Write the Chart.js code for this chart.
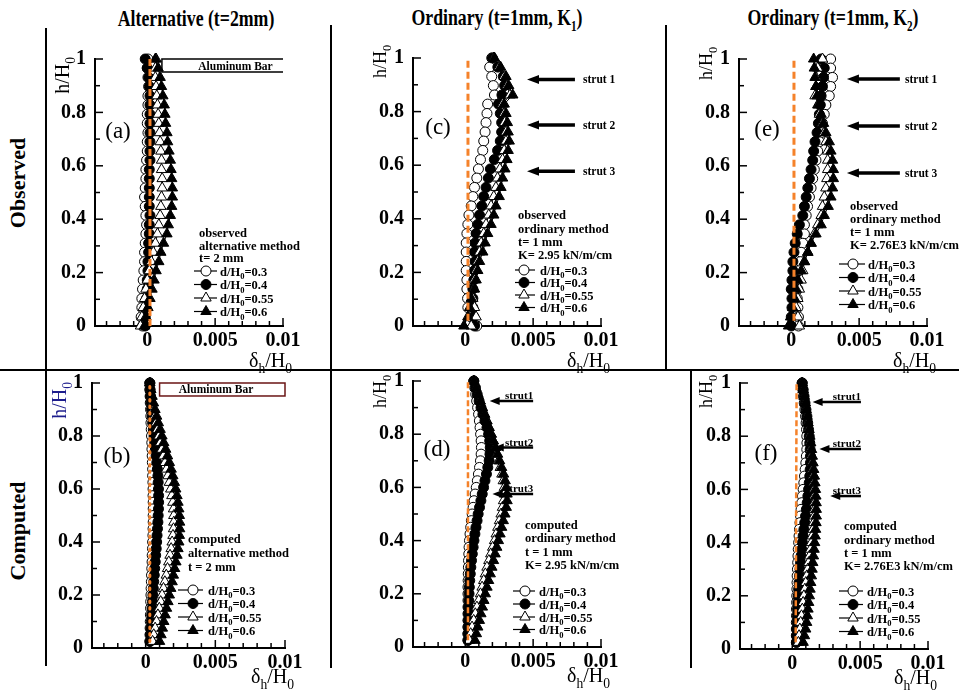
<!DOCTYPE html>
<html><head><meta charset="utf-8">
<script src="https://cdn.jsdelivr.net/npm/chart.js@4.4.0/dist/chart.umd.min.js"></script>
<style>
body{margin:0;background:#fff;}
#wrap{position:relative;width:959px;height:693px;overflow:hidden;background:#fff;font-family:"Liberation Serif","Times New Roman",serif;}
#wrap canvas{position:absolute;}
.t{position:absolute;font-weight:bold;white-space:nowrap;color:#000;line-height:1;}
.ttl{font-size:24px;transform:translateX(-50%) scaleX(0.74);}
.row{font-size:22px;transform:translate(-50%,-50%) rotate(-90deg);}
.ln{position:absolute;background:#000;}
</style></head><body>
<div id="wrap">
  <div class="t ttl" style="left:196px;top:6px">Alternative (t=2mm)</div>
  <div class="t ttl" style="left:497px;top:5px">Ordinary (t=1mm, K<sub style="font-size:15px">1</sub>)</div>
  <div class="t ttl" style="left:833px;top:5px">Ordinary (t=1mm, K<sub style="font-size:15px">2</sub>)</div>
  <div class="t row" style="left:18px;top:183px">Observed</div>
  <div class="t row" style="left:18px;top:531px">Computed</div>
  <div class="ln" style="left:45px;top:28px;width:1.5px;height:638px"></div>
  <div class="ln" style="left:0;top:369px;width:959px;height:1.5px"></div>
  <div class="ln" style="left:330px;top:25px;width:1.5px;height:345px"></div>
  <div class="ln" style="left:665px;top:25px;width:1.5px;height:345px"></div>
  <div class="ln" style="left:330px;top:370px;width:1.5px;height:298px"></div>
  <div class="ln" style="left:690px;top:370px;width:1.5px;height:298px"></div>
</div>
<script>
// ---------------- DATA (x values are delta_h/H0 in units of 1e-3) ----------------
const X_MINOR_TICKS = [-3,-2,-1,0,1,2,3,4,5,6,7,8,9,10];
const X_LABELED = [0,5,10];
const X_TICK_LABELS = ['0','0.005','0.01'];
const Y_TICKS = [0,0.1,0.2,0.3,0.4,0.5,0.6,0.7,0.8,0.9,1];
const Y_LABELED = [0,0.2,0.4,0.6,0.8,1];
const Y_TICK_LABELS = ['0','0.2','0.4','0.6','0.8','1'];
const SERIES_NAMES = ['d/H_0=0.3','d/H_0=0.4','d/H_0=0.55','d/H_0=0.6'];

const H_OBS = [1.000,0.966,0.931,0.897,0.862,0.828,0.793,0.759,0.724,0.690,0.655,0.621,0.586,0.552,0.517,0.483,0.448,0.414,0.379,0.345,0.310,0.276,0.241,0.207,0.172,0.138,0.103,0.069,0.034,0.000];
const H_CMP = [1.000,0.975,0.950,0.925,0.900,0.875,0.850,0.825,0.800,0.775,0.750,0.725,0.700,0.675,0.650,0.625,0.600,0.575,0.550,0.525,0.500,0.475,0.450,0.425,0.400,0.375,0.350,0.325,0.300,0.275,0.250,0.225,0.200,0.175,0.150,0.125,0.100,0.075,0.050,0.025];

// (a) observed, alternative method
const a_d030 = [0.05,0.00,0.05,0.10,0.05,0.05,0.00,0.00,0.05,0.00,0.00,-0.05,-0.10,-0.10,-0.15,-0.20,-0.15,-0.10,-0.05,-0.10,-0.15,-0.20,-0.20,-0.25,-0.30,-0.35,-0.40,-0.40,-0.45,-0.35];
const a_d040 = [-0.15,0.00,0.10,0.15,0.20,0.20,0.20,0.20,0.20,0.20,0.20,0.20,0.15,0.15,0.15,0.15,0.15,0.20,0.15,0.15,0.10,0.10,0.05,0.05,0.00,0.00,-0.05,-0.10,-0.15,-0.15];
const a_d055 = [0.65,0.60,0.60,0.65,0.70,0.75,0.80,0.85,0.90,0.95,1.00,1.05,1.05,1.10,1.10,1.05,1.00,0.95,0.85,0.75,0.60,0.45,0.30,0.15,0.00,-0.10,-0.20,-0.30,-0.40,-0.50];
const a_d060 = [0.60,0.80,0.95,1.05,1.15,1.25,1.30,1.35,1.45,1.50,1.60,1.70,1.75,1.80,1.85,1.85,1.80,1.70,1.55,1.45,1.20,1.00,0.85,0.65,0.50,0.35,0.20,0.05,-0.10,-0.20];
// (c) observed, ordinary method K1
const c_d030 = [1.95,1.80,1.95,2.07,2.15,1.65,1.60,1.53,1.46,1.36,1.29,1.12,0.97,0.85,0.68,0.56,0.44,0.27,0.19,0.12,0.07,0.07,0.07,0.07,0.12,0.12,0.17,0.19,0.40,0.85];
const c_d040 = [2.00,2.40,2.80,2.90,2.70,2.45,2.58,2.68,2.68,2.58,2.38,2.14,1.85,1.70,1.53,1.36,1.22,1.05,0.92,0.80,0.73,0.68,0.73,0.68,0.63,0.56,0.56,0.56,0.63,0.68];
const c_d055 = [2.10,2.50,2.87,3.10,3.30,2.75,2.87,2.90,3.00,3.00,2.87,2.75,2.55,2.38,2.26,2.10,1.90,1.73,1.53,1.36,1.17,1.05,0.92,0.80,0.68,0.63,0.56,0.68,0.80,0.44];
const c_d060 = [2.15,2.60,3.00,3.20,3.50,2.87,3.00,3.10,3.16,3.24,3.16,3.07,2.92,2.75,2.63,2.50,2.26,2.10,1.90,1.65,1.46,1.29,1.05,0.92,0.80,0.68,0.44,0.32,0.19,-0.10];
// (e) observed, ordinary method K2
const e_d030 = [2.90,2.90,3.04,2.90,2.80,2.55,2.43,2.30,2.20,2.07,1.95,1.82,1.70,1.58,1.46,1.34,1.20,1.10,0.97,0.97,0.85,0.73,0.68,0.60,0.49,0.49,0.44,0.49,0.53,0.53];
const e_d040 = [2.20,2.43,2.38,2.30,2.20,2.14,2.07,2.00,1.90,1.75,1.65,1.58,1.46,1.34,1.22,1.10,0.97,0.85,0.60,0.44,0.29,0.20,0.12,0.12,0.05,0.00,0.05,0.05,0.00,0.00];
const e_d055 = [2.30,1.95,1.82,1.82,1.75,1.95,2.07,2.30,2.43,2.55,2.68,2.68,2.68,2.62,2.55,2.43,2.30,2.20,1.95,1.70,1.46,1.22,0.97,0.85,0.73,0.60,0.49,0.36,0.49,0.60];
const e_d060 = [1.65,1.70,1.75,1.82,1.90,2.00,2.20,2.38,2.55,2.80,2.92,3.04,3.10,3.10,3.04,2.92,2.72,2.43,2.20,1.82,1.46,1.22,0.97,0.73,0.49,0.36,0.24,0.10,-0.05,-0.20];
// (b) computed, alternative method
const b_d030 = [0.30,0.30,0.32,0.33,0.35,0.37,0.38,0.40,0.42,0.44,0.45,0.47,0.48,0.50,0.50,0.52,0.53,0.53,0.54,0.54,0.54,0.54,0.53,0.52,0.50,0.49,0.47,0.46,0.44,0.42,0.41,0.39,0.38,0.36,0.35,0.34,0.33,0.32,0.31,0.30];
const b_d040 = [0.30,0.32,0.35,0.38,0.42,0.46,0.50,0.55,0.60,0.65,0.70,0.75,0.80,0.84,0.88,0.90,0.92,0.93,0.93,0.92,0.90,0.88,0.85,0.82,0.79,0.76,0.72,0.69,0.65,0.62,0.58,0.55,0.52,0.49,0.46,0.43,0.40,0.37,0.34,0.32];
const b_d055 = [0.30,0.35,0.42,0.50,0.58,0.67,0.76,0.86,0.96,1.06,1.17,1.28,1.39,1.50,1.60,1.70,1.80,1.88,1.95,2.00,2.02,2.02,2.00,1.96,1.90,1.83,1.75,1.66,1.57,1.48,1.38,1.28,1.18,1.08,0.98,0.88,0.78,0.68,0.58,0.50];
const b_d060 = [0.30,0.37,0.46,0.56,0.67,0.79,0.91,1.04,1.17,1.30,1.44,1.57,1.70,1.83,1.95,2.06,2.16,2.25,2.32,2.38,2.42,2.44,2.44,2.42,2.38,2.32,2.25,2.17,2.08,1.99,1.90,1.80,1.70,1.60,1.50,1.40,1.30,1.20,1.10,1.00];
// (d) computed, ordinary method K1
const d_d030 = [0.63,0.70,0.77,0.84,0.91,0.98,1.04,1.09,1.13,1.17,1.19,1.17,1.12,1.05,0.97,0.89,0.81,0.73,0.65,0.58,0.51,0.45,0.40,0.35,0.31,0.28,0.26,0.24,0.23,0.22,0.21,0.20,0.20,0.20,0.20,0.20,0.20,0.20,0.20,0.20];
const d_d040 = [0.63,0.75,0.88,1.02,1.16,1.30,1.45,1.60,1.72,1.80,1.84,1.82,1.76,1.66,1.56,1.45,1.35,1.25,1.15,1.05,0.95,0.87,0.79,0.71,0.64,0.58,0.52,0.46,0.41,0.37,0.33,0.30,0.28,0.26,0.24,0.23,0.22,0.21,0.20,0.20];
const d_d055 = [0.63,0.78,0.93,1.08,1.24,1.42,1.60,1.76,1.92,2.06,2.20,2.33,2.46,2.58,2.70,2.80,2.88,2.88,2.82,2.74,2.64,2.52,2.40,2.28,2.16,2.02,1.88,1.74,1.60,1.48,1.36,1.24,1.12,0.99,0.86,0.74,0.62,0.50,0.40,0.30];
const d_d060 = [0.63,0.78,0.94,1.10,1.26,1.42,1.58,1.74,1.90,2.06,2.22,2.38,2.53,2.68,2.82,2.94,3.03,3.08,3.08,3.02,2.92,2.80,2.68,2.56,2.44,2.32,2.20,2.08,1.96,1.84,1.72,1.60,1.48,1.37,1.26,1.15,1.04,0.92,0.82,0.72];
// (f) computed, ordinary method K2
const f_d030 = [0.73,0.78,0.83,0.88,0.93,0.98,1.02,1.05,1.07,1.08,1.07,1.04,1.00,0.95,0.90,0.85,0.80,0.75,0.70,0.65,0.61,0.57,0.53,0.50,0.47,0.44,0.42,0.40,0.38,0.36,0.35,0.34,0.33,0.32,0.31,0.31,0.30,0.30,0.30,0.30];
const f_d040 = [0.73,0.80,0.87,0.94,1.01,1.08,1.14,1.20,1.25,1.29,1.32,1.34,1.34,1.32,1.29,1.25,1.20,1.15,1.10,1.04,0.98,0.92,0.86,0.80,0.75,0.70,0.65,0.61,0.57,0.53,0.50,0.47,0.44,0.41,0.39,0.37,0.35,0.33,0.32,0.31];
const f_d055 = [0.73,0.80,0.87,0.94,1.00,1.06,1.12,1.18,1.24,1.30,1.35,1.40,1.45,1.50,1.54,1.58,1.61,1.63,1.64,1.64,1.62,1.58,1.53,1.47,1.41,1.35,1.28,1.21,1.14,1.07,1.00,0.93,0.86,0.80,0.74,0.68,0.62,0.56,0.50,0.45];
const f_d060 = [0.73,0.81,0.89,0.96,1.03,1.10,1.17,1.24,1.30,1.36,1.42,1.48,1.53,1.58,1.63,1.67,1.71,1.74,1.76,1.77,1.77,1.75,1.72,1.69,1.65,1.61,1.56,1.51,1.46,1.41,1.36,1.31,1.26,1.21,1.16,1.11,1.06,0.99,0.90,0.80];
// orange reference lines (x at bottom, x at top) and their h extent
const a_ref_x = [0.2,0.2], a_ref_h = [0,1];
const c_ref_x = [0.2,0.2], c_ref_h = [0.02,1];
const e_ref_x = [0.2,0.2], e_ref_h = [0.02,1];
const b_ref_x = [0.3,0.3], b_ref_h = [0.025,1];
const d_ref_x = [0.2,0.2], d_ref_h = [0.025,1];
const f_ref_x = [0.25,0.32], f_ref_h = [0.025,1];

// ---------------- PANEL LAYOUT / DECOR ----------------
const FONT = '"Liberation Serif","Times New Roman",serif';
const PANELS = [
 {area:[95,59,283,326], h:H_OBS, s:[a_d030,a_d040,a_d055,a_d060], rx:a_ref_x, rh:a_ref_h, dash:[7,3], rw:3,
  label:'(a)', lp:[23,73], yt:{size:20,bx:-26,top:-2,color:'#000'}, xtDy:41,
  text:['observed','alternative method','t= 2 mm'], tdx:104, tdy:[174,187,199],
  leg:{dy:[212,225.5,239,252.5], l:[99,122], mk:111, tx:125},
  bar:{x1:1.08, h1:0.951, textX:6.5, textH:0.972, color:'#000', rect:false}},
 {area:[413,58,601,326], h:H_OBS, s:[c_d030,c_d040,c_d055,c_d060], rx:c_ref_x, rh:c_ref_h, dash:[7,4], rw:3,
  label:'(c)', lp:[25,70], yt:{size:18,bx:-27,top:-13,color:'#000'}, xtDy:41,
  text:['observed','ordinary method','t= 1 mm','K= 2.95 kN/m/cm'], tdx:105, tdy:[157,171,184,197],
  leg:{dy:[212,224.5,237,249.5], l:[102,122], mk:111, tx:127},
  struts:{big:true, h:[0.92,0.75,0.577], x1:[4.55,4.55,4.55], x2:8.08, names:['strut 1','strut 2','strut 3'], tdx:170}},
 {area:[739,59,927,326], h:H_OBS, s:[e_d030,e_d040,e_d055,e_d060], rx:e_ref_x, rh:e_ref_h, dash:[7,4], rw:3,
  label:'(e)', lp:[28,71], yt:{size:18,bx:-27,top:-12,color:'#000'}, xtDy:41,
  text:['observed','ordinary method','t= 1 mm','K= 2.76E3 kN/m/cm'], tdx:111, tdy:[147,160,173,186],
  leg:{dy:[205,218.5,232,245.5], l:[100,126], mk:114, tx:129},
  struts:{big:true, h:[0.925,0.749,0.573], x1:[4.1,4.1,4.1], x2:8.0, names:['strut 1','strut 2','strut 3'], tdx:166}},
 {area:[92,383,285,648], h:H_CMP, s:[b_d030,b_d040,b_d055,b_d060], rx:b_ref_x, rh:b_ref_h, dash:[1.5,5], rw:3, round:true,
  label:'(b)', lp:[25,74], yt:{size:20,bx:-26,top:-1,color:'#1c1c8c'}, xtDy:35,
  text:['computed','alternative method','t = 2 mm'], tdx:96, tdy:[156,170,184],
  leg:{dy:[207,220.5,234,247.5], l:[86,111], mk:101, tx:116},
  bar:{x1:1.0, h1:0.951, textX:5.05, textH:0.977, color:'#6a1515', rect:true}},
 {area:[413,381,601,647], h:H_CMP, s:[d_d030,d_d040,d_d055,d_d060], rx:d_ref_x, rh:d_ref_h, dash:[6,3], rw:2.5,
  label:'(d)', lp:[24,69], yt:{size:18,bx:-27,top:-6,color:'#000'}, xtDy:35,
  text:['computed','ordinary method','t = 1 mm','K= 2.95 kN/m/cm'], tdx:112, tdy:[144,157,171,184],
  leg:{dy:[210,223,236,248.5], l:[100,122], mk:112, tx:126},
  struts:{big:false, h:[0.925,0.75,0.575], x1:[1.8,2.1,2.0], x2:5.0, names:['strut1','strut2','strut3']}},
 {area:[740,383,928,649], h:H_CMP, s:[f_d030,f_d040,f_d055,f_d060], rx:f_ref_x, rh:f_ref_h, dash:[6,3], rw:2.5,
  label:'(f)', lp:[26,71], yt:{size:18,bx:-28,top:-8,color:'#000'}, xtDy:35,
  text:['computed','ordinary method','t = 1 mm','K= 2.76E3 kN/m/cm'], tdx:104, tdy:[143,157,170,183],
  leg:{dy:[208,221.5,235,248.5], l:[99,123], mk:113, tx:127},
  struts:{big:false, h:[0.929,0.752,0.575], x1:[1.5,2.0,2.8], x2:5.06, names:['strut1','strut2','strut3']}}
];
const STYLES = [
  {ps:'circle', fill:'#fff', r:5},
  {ps:'circle', fill:'#000', r:5},
  {ps:'triangle', fill:'#fff', r:6},
  {ps:'triangle', fill:'#000', r:6}
];
const M = {l:75, t:25, r:32, b:50};

function parseRich(s){ const out=[]; let buf=''; for(let i=0;i<s.length;i++){ if(s[i]==='_'){ if(buf) out.push({t:buf}); buf=''; out.push({t:s[i+1],sub:true}); i++; } else buf+=s[i]; } if(buf) out.push({t:buf}); return out; }
function rich(ctx, str, x, y, size, weight, align, color){
  const parts = parseRich(str); const ws=[]; let w=0;
  const f = s => weight+' '+s+'px '+FONT;
  parts.forEach(p=>{ ctx.font=f(p.sub?size*0.68:size); const m=ctx.measureText(p.t).width; ws.push(m); w+=m; });
  let cx = align==='right'? x-w : align==='center'? x-w/2 : x;
  ctx.fillStyle=color||'#000'; ctx.textAlign='left'; ctx.textBaseline='alphabetic';
  parts.forEach((p,i)=>{ ctx.font=f(p.sub?size*0.68:size); ctx.fillText(p.t, cx, y+(p.sub?size*0.28:0)); cx+=ws[i]; });
  return w;
}
function marker(ctx, st, x, y){
  ctx.beginPath();
  if(st.ps==='circle'){ ctx.arc(x,y,st.r,0,Math.PI*2); }
  else { const r=st.r; let a=0; ctx.moveTo(x+Math.sin(a)*r, y-Math.cos(a)*r); a+=2*Math.PI/3; ctx.lineTo(x+Math.sin(a)*r, y-Math.cos(a)*r); a+=2*Math.PI/3; ctx.lineTo(x+Math.sin(a)*r, y-Math.cos(a)*r); ctx.closePath(); }
  ctx.fillStyle=st.fill; ctx.fill(); ctx.lineWidth=1; ctx.strokeStyle='#000'; ctx.stroke();
}
function arrow(ctx, x1, x2, y, lw, hl, hh){
  ctx.strokeStyle='#000'; ctx.fillStyle='#000'; ctx.lineWidth=lw; ctx.lineCap='butt';
  ctx.beginPath(); ctx.moveTo(x1+hl-1,y); ctx.lineTo(x2,y); ctx.stroke();
  ctx.beginPath(); ctx.moveTo(x1,y); ctx.lineTo(x1+hl,y-hh); ctx.lineTo(x1+hl,y+hh); ctx.closePath(); ctx.fill();
}

function makeDecor(P){
  return { id:'decor', afterDatasetsDraw(chart){
    const ctx=chart.ctx, xs=chart.scales.x, ys=chart.scales.y, A=chart.chartArea;
    ctx.save();
    // inward ticks
    ctx.strokeStyle='#000'; ctx.lineWidth=1.5;
    X_MINOR_TICKS.forEach(v=>{ const px=xs.getPixelForValue(v); const len=X_LABELED.includes(v)?8:5; ctx.beginPath(); ctx.moveTo(px,A.bottom); ctx.lineTo(px,A.bottom-len); ctx.stroke(); });
    Y_TICKS.forEach(v=>{ const py=ys.getPixelForValue(v); const len=Y_LABELED.some(u=>Math.abs(u-v)<1e-6)?8:5; ctx.beginPath(); ctx.moveTo(A.left,py); ctx.lineTo(A.left+len,py); ctx.stroke(); });
    // y title (rotated)
    ctx.save(); ctx.translate(A.left+P.yt.bx, A.top+P.yt.top); ctx.rotate(-Math.PI/2);
    rich(ctx,'h/H_0',0,0,P.yt.size,'normal','right',P.yt.color); ctx.restore();
    // x title
    rich(ctx,'\u03b4_h/H_0',A.right+9,A.bottom+P.xtDy,20,'normal','right');
    // panel label
    ctx.font='normal 23px '+FONT; ctx.fillStyle='#000'; ctx.textAlign='center'; ctx.textBaseline='middle';
    ctx.fillText(P.label, A.left+P.lp[0], A.top+P.lp[1]);
    // text block
    P.text.forEach((t,i)=> rich(ctx,t,A.left+P.tdx,A.top+P.tdy[i]+4,12.5,'bold','left'));
    // legend
    SERIES_NAMES.forEach((nm,i)=>{ const y=A.top+P.leg.dy[i];
      ctx.strokeStyle='#000'; ctx.lineWidth=1.2; ctx.beginPath(); ctx.moveTo(A.left+P.leg.l[0],y); ctx.lineTo(A.left+P.leg.l[1],y); ctx.stroke();
      marker(ctx,STYLES[i],A.left+P.leg.mk,y);
      rich(ctx,nm,A.left+P.leg.tx,y+4.5,12.5,'bold','left'); });
    // struts
    if(P.struts){ const S=P.struts;
      S.h.forEach((hv,i)=>{ const y=ys.getPixelForValue(hv), x1=xs.getPixelForValue(S.x1[i]), x2=xs.getPixelForValue(S.x2);
        if(S.big){ arrow(ctx,x1,x2,y,3.5,12,4.5); rich(ctx,S.names[i],A.left+S.tdx,y+4,11.5,'bold','left'); }
        else { arrow(ctx,x1,x2,y,2.5,10,4); rich(ctx,S.names[i],x2,y-2,11,'bold','right'); }
      }); }
    // aluminum bar
    if(P.bar){ const B=P.bar; const x1=xs.getPixelForValue(B.x1), x2=A.right, yt=ys.getPixelForValue(1), yb=ys.getPixelForValue(B.h1);
      ctx.strokeStyle=B.color; ctx.lineWidth=1.5;
      if(B.rect){ ctx.strokeRect(x1,yt,x2-x1,yb-yt); }
      else { ctx.beginPath(); ctx.moveTo(x2,yt); ctx.lineTo(x1,yt); ctx.lineTo(x1,yb); ctx.lineTo(x2,yb); ctx.stroke(); }
      ctx.font='bold 11.5px '+FONT; ctx.fillStyle='#000'; ctx.textAlign='center'; ctx.textBaseline='middle';
      ctx.fillText('Aluminum Bar', xs.getPixelForValue(B.textX), ys.getPixelForValue(B.textH)+1);
    }
    ctx.restore();
  }};
}

const wrap=document.getElementById('wrap');
PANELS.forEach(P=>{
  const [L,T,R,B]=P.area;
  const cv=document.createElement('canvas');
  const W=(R-L)+M.l+M.r, H=(B-T)+M.t+M.b;
  cv.width=W; cv.height=H; cv.style.left=(L-M.l)+'px'; cv.style.top=(T-M.t)+'px'; cv.style.width=W+'px'; cv.style.height=H+'px';
  wrap.appendChild(cv);
  const datasets = P.s.map((arr,i)=>({
    data: arr.map((v,k)=>({x:v, y:P.h[k]})), showLine:true, borderColor:'#000', borderWidth:1, tension:0,
    pointStyle:STYLES[i].ps, pointRadius:STYLES[i].r, pointBackgroundColor:STYLES[i].fill, pointBorderColor:'#000', pointBorderWidth:1,
    order:4-i, clip:false
  }));
  datasets.push({ data:[{x:P.rx[0],y:P.rh[0]},{x:P.rx[1],y:P.rh[1]}], showLine:true, borderColor:'#f5822a', borderWidth:P.rw,
    borderDash:P.dash, borderCapStyle:P.round?'round':'butt', pointRadius:0, order:0, clip:false });
  const tickFont={family:FONT, size:20, weight:'bold'};
  new Chart(cv,{ type:'scatter', data:{datasets},
    options:{ responsive:false, animation:false, devicePixelRatio:1,
      layout:{padding:{left:M.l-60, top:M.t, right:M.r, bottom:M.b-40}},
      plugins:{legend:{display:false}, tooltip:{enabled:false}},
      scales:{
        x:{type:'linear', min:-3.85, max:10, afterFit:s=>{s.height=40;},
          afterBuildTicks:s=>{ s.ticks=X_MINOR_TICKS.map(v=>({value:v})); },
          grid:{display:false, drawTicks:false}, border:{display:true,color:'#000',width:2},
          ticks:{autoSkip:false, maxRotation:0, padding:3, color:'#000', font:tickFont,
            callback:v=>{ const i=X_LABELED.indexOf(v); return i>=0?X_TICK_LABELS[i]:''; }}},
        y:{type:'linear', min:0, max:1, afterFit:s=>{s.width=60;},
          afterBuildTicks:s=>{ s.ticks=Y_TICKS.map(v=>({value:v})); },
          grid:{display:false, drawTicks:false}, border:{display:true,color:'#000',width:2},
          ticks:{autoSkip:false, padding:9, color:'#000', font:tickFont,
            callback:v=>{ const i=Y_LABELED.findIndex(u=>Math.abs(u-v)<1e-6); return i>=0?Y_TICK_LABELS[i]:''; }}}
      }
    },
    plugins:[makeDecor(P)]
  });
});
</script>
</body></html>
